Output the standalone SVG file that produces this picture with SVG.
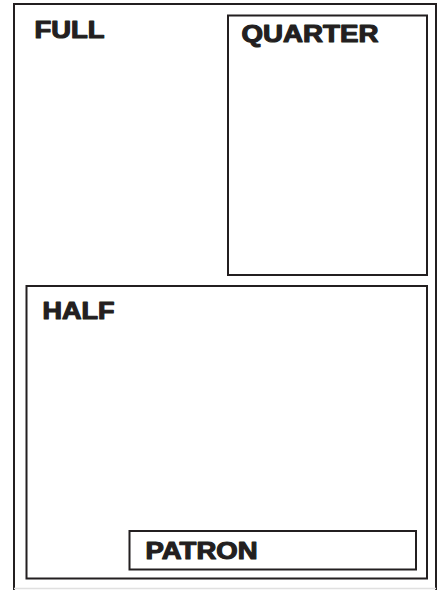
<svg xmlns="http://www.w3.org/2000/svg" width="438" height="590" viewBox="0 0 438 590">
<style>
.box{fill:none;stroke:#231f20;stroke-width:2}
.lbl{font-family:"Liberation Sans",Arial,sans-serif;font-weight:bold;font-size:23px;fill:#231f20;stroke:#231f20;stroke-width:1.1;stroke-linejoin:round}
</style>
<rect width="438" height="590" fill="#ffffff"/>
<g id="full">
<path class="box" d="M14,590 V4 H436 V590"/>
<line x1="14" y1="588.5" x2="436" y2="588.5" stroke="#e0e0e0" stroke-width="1.5"/>
<text class="lbl" x="34.5" y="38" textLength="70" lengthAdjust="spacingAndGlyphs">FULL</text>
</g>
<g id="quarter">
<rect class="box" x="228" y="15.5" width="199" height="259.5"/>
<text class="lbl" x="241.5" y="42" textLength="137" lengthAdjust="spacingAndGlyphs">QUARTER</text>
</g>
<g id="half">
<rect class="box" x="26.5" y="286" width="400.5" height="292.5"/>
<text class="lbl" x="42.5" y="319" textLength="72" lengthAdjust="spacingAndGlyphs">HALF</text>
</g>
<g id="patron">
<rect class="box" x="129.5" y="531" width="286.5" height="38.5"/>
<text class="lbl" x="145.5" y="559" textLength="112" lengthAdjust="spacingAndGlyphs">PATRON</text>
</g>
<g id="connectors"/>
</svg>
